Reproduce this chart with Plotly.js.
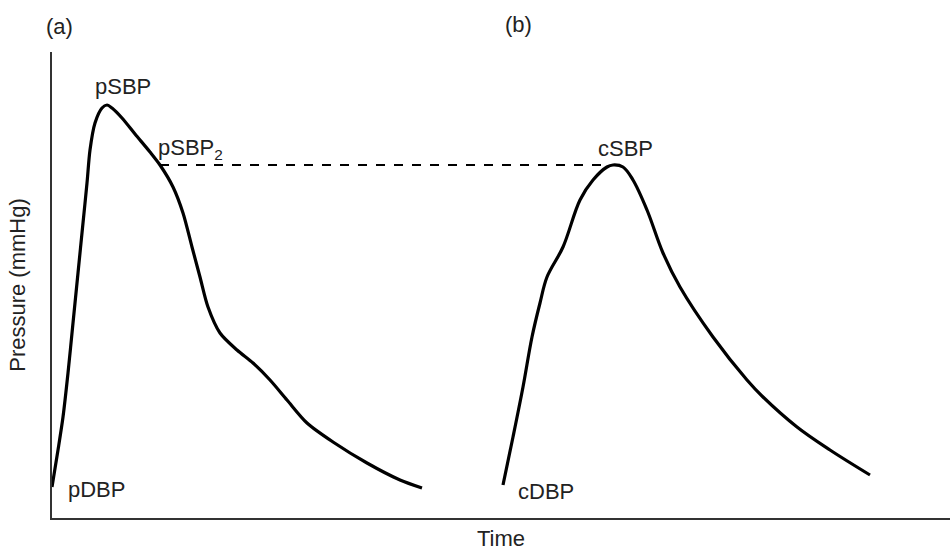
<!DOCTYPE html>
<html><head><meta charset="utf-8">
<script src="https://cdn.plot.ly/plotly-3.0.1.min.js"></script>
<style>html,body{margin:0;padding:0;background:#fff}#c{width:950px;height:551px}</style>
</head><body><div id="c"></div>
<script>
// Peripheral (radial) pressure waveform (a)
const periphTime = [0,6,11,16,21,26,31,35,38,43,50,55,60,70,83,98,108,121,131,140,148,156,168,185,201,218,235,255,281,315,348,370];
const periphPressure = [31,68,101,145,195,245,295,335,368,395,410,413,410,400,384,366,353,331,305,271,241,211,185,168,155,138,118,95,76,55,38,30];
// Central (aortic) pressure waveform (b)
const centralTime = [451,461,471,480,488,495,511,528,541,555,561,571,581,595,611,628,661,695,711,745,778,818];
const centralPressure = [33,81,131,181,215,241,271,318,338,351,353,351,338,308,265,231,181,138,121,91,68,43];
// Reference line pSBP2 -> cSBP
const refTime = [108,553];
const refPressure = [353,353];

const txt = {family:'"Liberation Sans", Arial, sans-serif', size:22, color:'#222'};

const traces = [
  {x:periphTime, y:periphPressure, mode:'lines', line:{color:'#000', width:3.2, shape:'spline', smoothing:0.8}, hoverinfo:'skip'},
  {x:centralTime, y:centralPressure, mode:'lines', line:{color:'#000', width:3.2, shape:'spline', smoothing:1}, hoverinfo:'skip'},
  {x:refTime, y:refPressure, mode:'lines', line:{color:'#000', width:2, dash:'dash'}, hoverinfo:'skip'}
];

function ann(x,y,text,xa){return {x:x,y:y,text:text,showarrow:false,font:txt,xanchor:xa||'center',yanchor:'middle'};}
function pann(x,y,text){return {xref:'paper',yref:'paper',x:x,y:y,text:text,showarrow:false,font:txt,xanchor:'center',yanchor:'middle'};}

const layout = {
  width:950, height:551,
  margin:{l:52, r:0, t:52, b:33},
  paper_bgcolor:'#fff', plot_bgcolor:'#fff',
  showlegend:false,
  xaxis:{range:[0,898], showline:true, linecolor:'#333', linewidth:2, showticklabels:false, ticks:'', showgrid:false, zeroline:false,
         title:{text:'Time', font:txt, standoff:12}},
  yaxis:{range:[0,466], showline:true, linecolor:'#333', linewidth:2, showticklabels:false, ticks:'', showgrid:false, zeroline:false,
         title:{text:'Pressure (mmHg)', font:txt, standoff:18}},
  annotations:[
    pann(0.008,1.054,'(a)'),
    pann(0.520,1.058,'(b)'),
    ann(71,432,'pSBP'),
    ann(104,369,'pSBP<sub>2</sub>','left'),
    ann(573,370,'cSBP'),
    ann(44,29,'pDBP'),
    ann(494,27,'cDBP')
  ]
};
Plotly.newPlot('c', traces, layout, {staticPlot:true, displayModeBar:false});
</script></body></html>
